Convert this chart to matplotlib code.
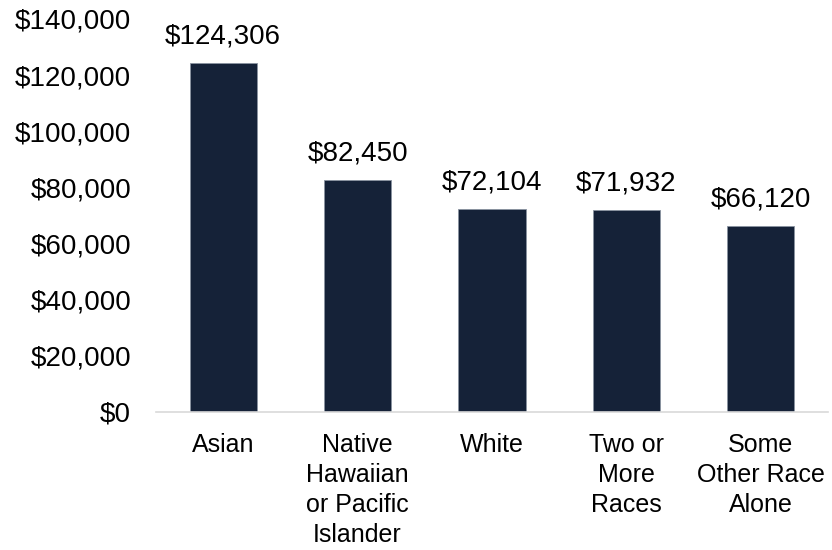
import matplotlib.pyplot as plt

categories = ["Asian", "Native\nHawaiian\nor Pacific\nIslander", "White",
              "Two or\nMore\nRaces", "Some\nOther Race\nAlone"]
income = [124306, 82450, 72104, 71932, 66120]
yticks = [0, 20000, 40000, 60000, 80000, 100000, 120000, 140000]

plt.rcParams['font.family'] = ['Liberation Sans', 'DejaVu Sans']
fs = 20

fig = plt.figure(figsize=(8.32, 5.5), dpi=100)
ax = fig.add_axes([0.1875, 0.2515, 0.8075, 0.714])

x = range(len(categories))
bars = ax.bar(x, income, width=0.5, color='#152238', edgecolor='#8a93a0', linewidth=0.6)

for b, v in zip(bars, income):
    ax.annotate(f"${v:,}", (b.get_x() + b.get_width() / 2, v),
                xytext=(0, 10), textcoords='offset points',
                ha='center', va='bottom', fontsize=fs, color='black')

ax.set_xlim(-0.5, len(categories) - 0.5)
ax.set_ylim(0, 140000)
ax.set_yticks(yticks)
ax.set_yticklabels([f"${t:,}" for t in yticks], fontsize=fs)
ax.set_xticks(list(x))
ax.set_xticklabels(categories, fontsize=18, linespacing=1.32, va='top')

for s in ['top', 'right', 'left']:
    ax.spines[s].set_visible(False)
ax.spines['bottom'].set_color('#d9d9d9')
ax.spines['bottom'].set_linewidth(1.2)
ax.tick_params(axis='both', length=0)
ax.tick_params(axis='y', pad=18)
ax.tick_params(axis='x', pad=15)

fig.savefig('out.png', dpi=100)
